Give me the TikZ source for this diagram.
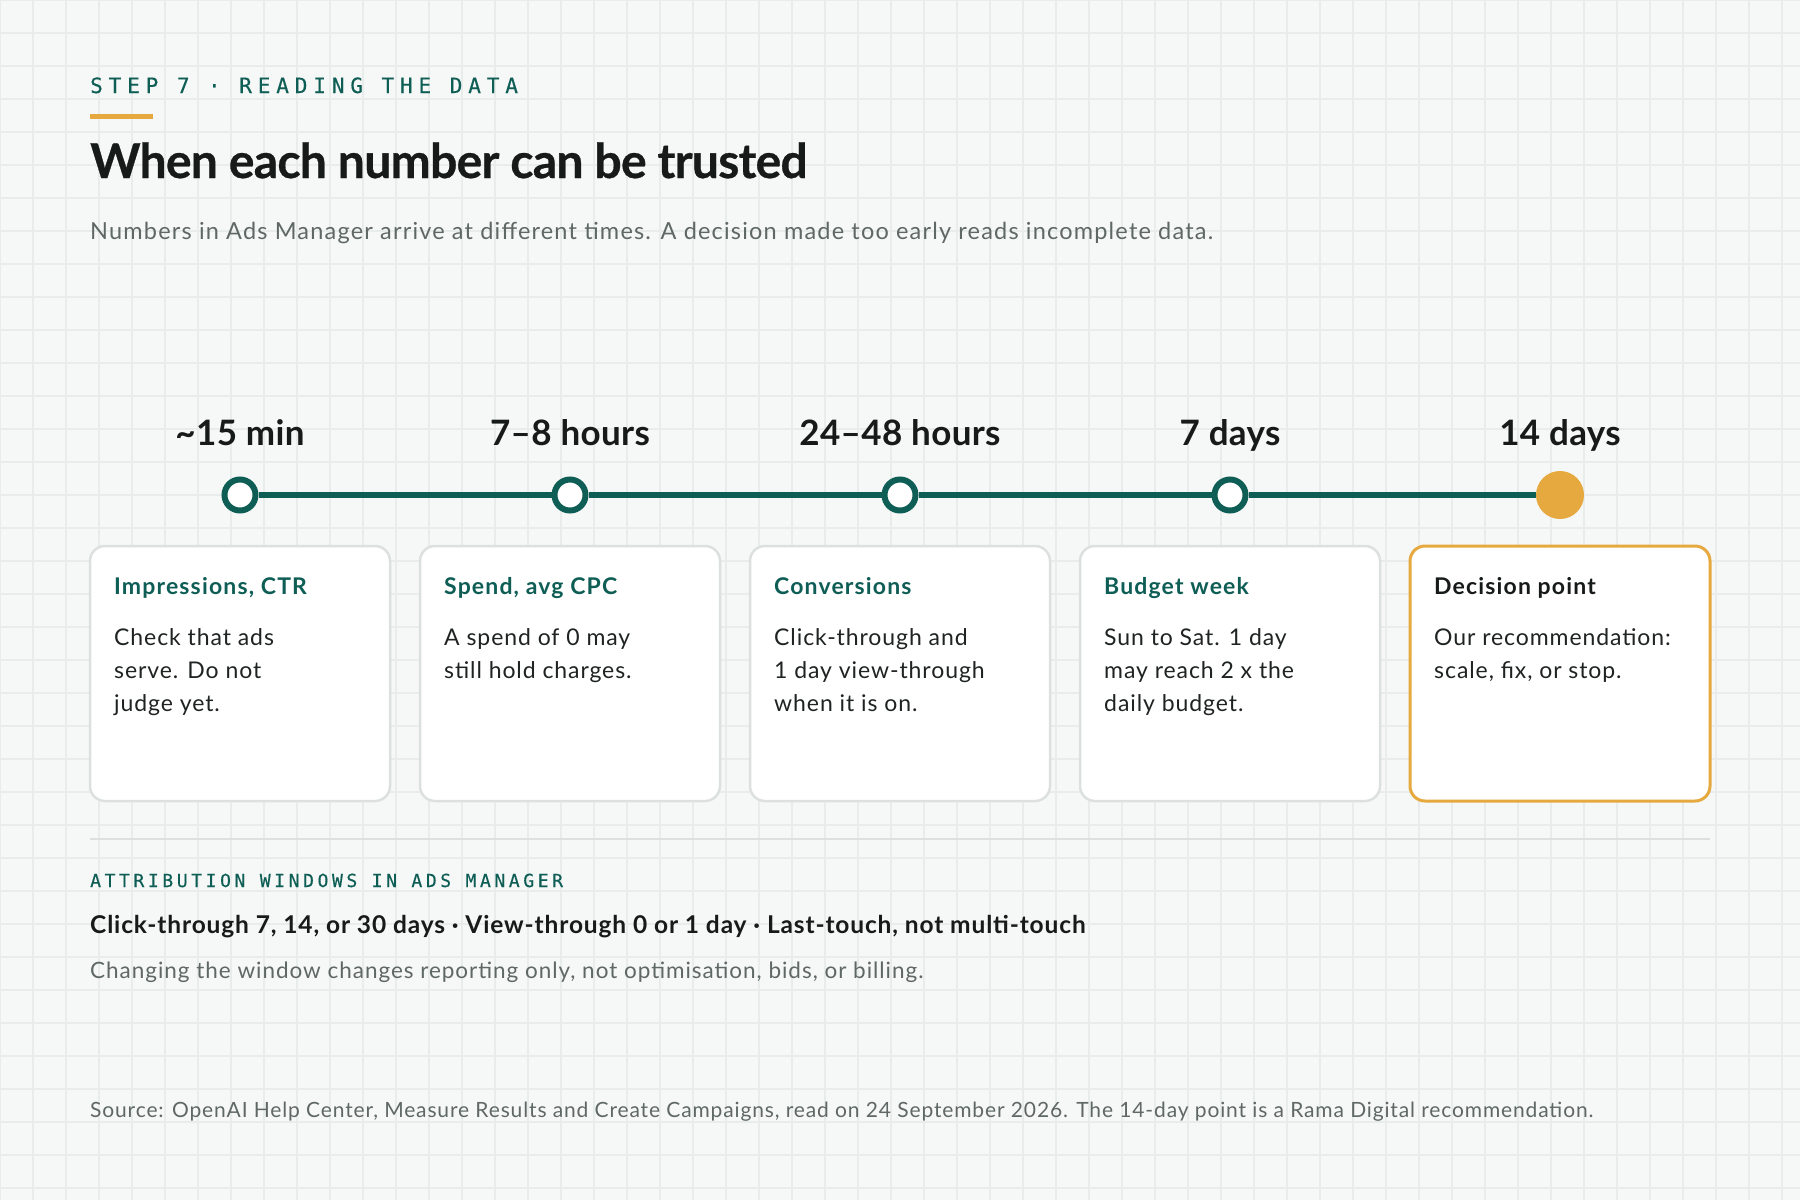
\documentclass[tikz,border=0pt]{standalone}
\usepackage{fontspec}
\setmainfont{Lato}
\newfontfamily\monoA{DejaVu Sans Mono}[LetterSpace=28, FakeBold=0.4]
\newfontfamily\monoB{DejaVu Sans Mono}[LetterSpace=20, FakeBold=0.4]
\newfontfamily\titlef{Lato}[LetterSpace=-1.5, BoldFeatures={FakeBold=0.6}]
\newfontfamily\labelf{Lato}[LetterSpace=1]
\newfontfamily\subf{Lato}[LetterSpace=5.1]
\newfontfamily\bodyf{Lato}[LetterSpace=4]
\newfontfamily\ctf{Lato}[LetterSpace=5]
\newfontfamily\attlf{Lato}[LetterSpace=3.5]
\newfontfamily\notef{Lato}[LetterSpace=4.3]
\newfontfamily\srcf{Lato}[LetterSpace=4.1]
\definecolor{bgc}{HTML}{F6F8F7}
\definecolor{gridc}{HTML}{E8EDEC}
\definecolor{tealc}{HTML}{0F5E56}
\definecolor{orangec}{HTML}{E6A93F}
\definecolor{darkc}{HTML}{161A19}
\definecolor{bodyc}{HTML}{1F2322}
\definecolor{greyc}{HTML}{5F6865}
\definecolor{cardb}{HTML}{DCE1E0}
\begin{document}
\begin{tikzpicture}[x=1pt,y=-1pt,
  txt/.style={inner sep=0pt, anchor=base west},
  card/.style={draw=cardb, line width=2.5pt, fill=white, rounded corners=15pt,
    minimum width=300pt, minimum height=255pt, inner sep=0pt},
  dcard/.style={card, draw=orangec, line width=3pt},
  ctitle/.style={txt, text=tealc, font=\ctf\fontsize{23}{27}\selectfont\bfseries},
  cbody/.style={txt, text=bodyc, font=\bodyf\fontsize{23}{27}\selectfont},
  tlabel/.style={inner sep=0pt, anchor=base, text=darkc, font=\labelf\fontsize{35}{40}\selectfont\bfseries},
  dot/.style={circle, draw=tealc, line width=6pt, fill=white, minimum size=31pt, inner sep=0pt},
  bigdot/.style={circle, fill=orangec, minimum size=48pt, inner sep=0pt},
  tline/.style={draw=tealc, line width=6pt}
]
\useasboundingbox (0,0) rectangle (1800,1200);
\fill[bgc] (0,0) rectangle (1800,1200);
\foreach \g in {0,33,...,1800} {\draw[gridc, line width=1.5pt] (\g,0) -- (\g,1200);}
\foreach \g in {0,33,...,1200} {\draw[gridc, line width=1.5pt] (0,\g) -- (1800,\g);}

% header
\node[txt, text=tealc, font=\monoA\fontsize{21}{24}\selectfont] (step) at (90,93) {STEP 7 · READING THE DATA};
\fill[orangec] (90,114) rectangle (153,119);
\node[txt, text=darkc, font=\titlef\fontsize{48}{54}\selectfont\bfseries] (title) at (90,178) {When each number can be trusted};
\node[txt, text=greyc, font=\subf\fontsize{23.5}{27}\selectfont] (sub) at (90,239) {Numbers in Ads Manager arrive at different times. A decision made too early reads incomplete data.};

% timeline labels
\node[tlabel] (t1) at (240,445) {\textasciitilde15 min};
\node[tlabel] (t2) at (570,445) {7–8 hours};
\node[tlabel] (t3) at (900,445) {24–48 hours};
\node[tlabel] (t4) at (1230,445) {7 days};
\node[tlabel] (t5) at (1560,445) {14 days};

% timeline dots
\node[dot] (d1) at (240,495) {};
\node[dot] (d2) at (570,495) {};
\node[dot] (d3) at (900,495) {};
\node[dot] (d4) at (1230,495) {};
\node[bigdot] (d5) at (1560,495) {};
\draw[tline] (d1) -- (d2);
\draw[tline] (d2) -- (d3);
\draw[tline] (d3) -- (d4);
\draw[tline] (d4) -- (d5);

% cards
\node[card] (c1) at (240,673.5) {};
\node[card] (c2) at (570,673.5) {};
\node[card] (c3) at (900,673.5) {};
\node[card] (c4) at (1230,673.5) {};
\node[dcard] (c5) at (1560,673.5) {};

\node[ctitle] (c1t) at (114,594) {Impressions, CTR};
\node[cbody] (c1a) at (114,645) {Check that ads};
\node[cbody] (c1b) at (114,678) {serve. Do not};
\node[cbody] (c1c) at (114,711) {judge yet.};

\node[ctitle] (c2t) at (444,594) {Spend, avg CPC};
\node[cbody] (c2a) at (444,645) {A spend of 0 may};
\node[cbody] (c2b) at (444,678) {still hold charges.};

\node[ctitle] (c3t) at (774,594) {Conversions};
\node[cbody] (c3a) at (774,645) {Click-through and};
\node[cbody] (c3b) at (774,678) {1 day view-through};
\node[cbody] (c3c) at (774,711) {when it is on.};

\node[ctitle] (c4t) at (1104,594) {Budget week};
\node[cbody] (c4a) at (1104,645) {Sun to Sat. 1 day};
\node[cbody] (c4b) at (1104,678) {may reach 2 x the};
\node[cbody] (c4c) at (1104,711) {daily budget.};

\node[ctitle, text=darkc] (c5t) at (1434,594) {Decision point};
\node[cbody] (c5a) at (1434,645) {Our recommendation:};
\node[cbody] (c5b) at (1434,678) {scale, fix, or stop.};

% separator
\draw[cardb, line width=2pt] (90,839) -- (1710,839);

% attribution
\node[txt, text=tealc, font=\monoB\fontsize{18}{21}\selectfont] (att) at (90,887) {ATTRIBUTION WINDOWS IN ADS MANAGER};
\node[txt, text=darkc, font=\attlf\fontsize{24.5}{28}\selectfont\bfseries] (attl) at (90,933) {Click-through 7, 14, or 30 days · View-through 0 or 1 day · Last-touch, not multi-touch};
\node[txt, text=greyc, font=\notef\fontsize{22.5}{27}\selectfont] (attn) at (90,978) {Changing the window changes reporting only, not optimisation, bids, or billing.};

% source
\node[txt, text=greyc, font=\srcf\fontsize{21}{24}\selectfont] (src) at (90,1117) {Source: OpenAI Help Center, Measure Results and Create Campaigns, read on 24 September 2026. The 14-day point is a Rama Digital recommendation.};
\end{tikzpicture}
\end{document}
